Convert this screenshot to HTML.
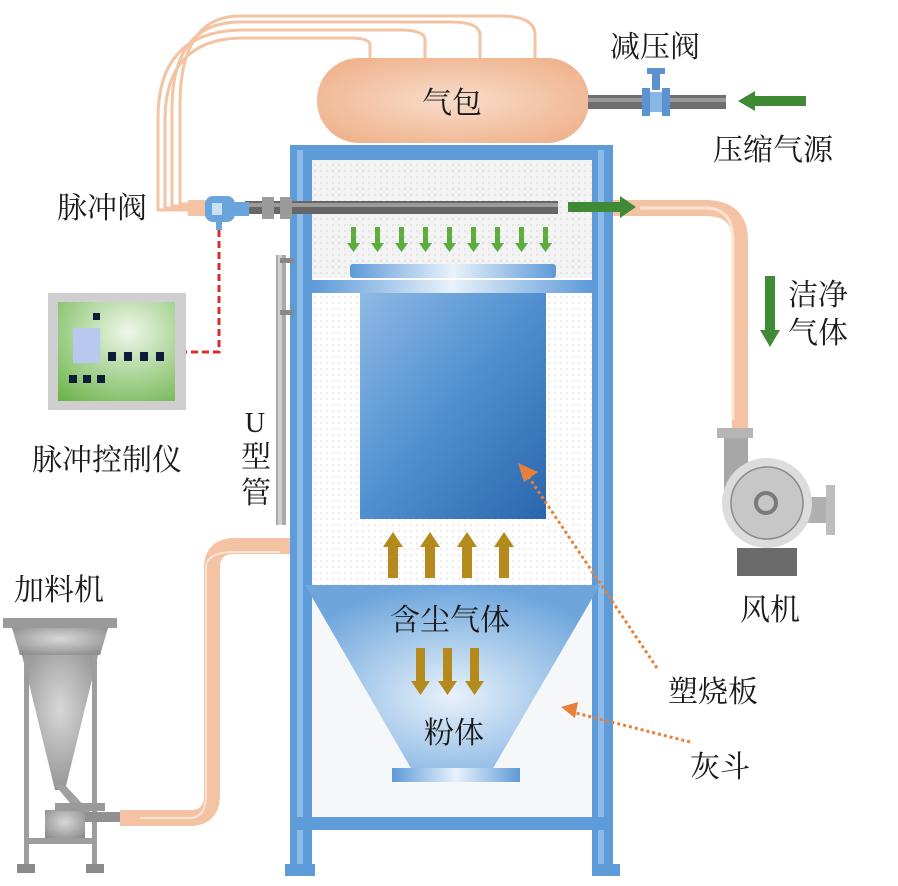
<!DOCTYPE html>
<html><head><meta charset="utf-8"><style>
html,body{margin:0;padding:0;background:#fff;}
svg{display:block;}
text{font-family:"Liberation Serif","Noto Serif CJK SC","Noto Sans CJK SC",serif;fill:#1a1a1a;}
</style></head><body>
<svg width="898" height="886" viewBox="0 0 898 886" xmlns="http://www.w3.org/2000/svg">
<defs>
<pattern id="dots" width="6" height="6" patternUnits="userSpaceOnUse"><rect width="6" height="6" fill="#f3f3f3"/><circle cx="3" cy="3" r="0.7" fill="#cfcfcf"/></pattern>
<pattern id="dotsw" width="6" height="6" patternUnits="userSpaceOnUse"><rect width="6" height="6" fill="#ffffff"/><circle cx="3" cy="3" r="0.7" fill="#d0d0d0"/></pattern>
<linearGradient id="plate" x1="0" y1="0" x2="1" y2="1"><stop offset="0" stop-color="#8fb9e4"/><stop offset="0.5" stop-color="#4f8fd0"/><stop offset="1" stop-color="#2a66ad"/></linearGradient>
<radialGradient id="drum" cx="0.5" cy="0.5" r="0.6"><stop offset="0" stop-color="#f8dccb"/><stop offset="1" stop-color="#f0b38d"/></radialGradient>
<radialGradient id="cone" cx="0.5" cy="0.6" r="0.6"><stop offset="0" stop-color="#e8f2fb"/><stop offset="1" stop-color="#6ea6dc"/></radialGradient>
<linearGradient id="hbar" x1="0" y1="0" x2="1" y2="0"><stop offset="0" stop-color="#5d9ad8"/><stop offset="0.5" stop-color="#e8f2fb"/><stop offset="1" stop-color="#5d9ad8"/></linearGradient>
<radialGradient id="green" cx="0.6" cy="0.3" r="0.9"><stop offset="0" stop-color="#eef7e8"/><stop offset="1" stop-color="#6bb34a"/></radialGradient>
<radialGradient id="gray" cx="0.5" cy="0.4" r="0.7"><stop offset="0" stop-color="#d8d8d8"/><stop offset="1" stop-color="#8a8a8a"/></radialGradient>
</defs>

<!-- tubes from drum to pulse valve -->
<g fill="none" stroke="#f3c3a3" stroke-width="3">
<path d="M370 58 V45 Q370 38 350 38 H240 Q165 40 165 120 V208 H205"/>
<path d="M425 58 V40 Q425 30 400 30 H240 Q158 32 158 118 V210 H205"/>
<path d="M480 58 V35 Q480 22 450 22 H240 Q170 22 172 115 V206 H205"/>
<path d="M535 58 V35 Q535 16 500 16 H240 Q178 16 180 112 V204 H205"/>
</g>
<rect x="188" y="200" width="20" height="16" fill="#f3c3a3"/>

<!-- gas drum -->
<rect x="317" y="58" width="272" height="85" rx="42" fill="url(#drum)"/>
<text x="452" y="113" font-size="30" text-anchor="middle">气包</text>
<rect x="588" y="95" width="138" height="14" fill="#6e6e6e"/>
<rect x="588" y="98" width="138" height="4" fill="#9a9a9a"/>
<rect x="642" y="88" width="8" height="28" fill="#5b92cf"/>
<rect x="662" y="88" width="8" height="28" fill="#5b92cf"/>
<rect x="650" y="92" width="12" height="20" fill="#8ab6e3"/>
<rect x="652" y="70" width="8" height="20" fill="#5b92cf"/>
<rect x="647" y="68" width="18" height="6" fill="#5b92cf"/>
<rect x="752" y="96" width="54" height="10" fill="#3f8a35"/>
<polygon points="738,101 755,91 755,111" fill="#3f8a35"/>
<text x="610" y="57" font-size="30">减压阀</text>
<text x="713" y="160" font-size="30">压缩气源</text>

<!-- outlet pipe to fan -->
<path d="M612 208 H705 Q740 208 740 240 V432" fill="none" stroke="#f3c3a3" stroke-width="16"/>
<path d="M640 208 H705 Q733 208 733 240 V420" fill="none" stroke="#fbe3d3" stroke-width="3"/>

<!-- main vessel frame -->
<rect x="290" y="145" width="323" height="16" fill="#5e9bd9"/>
<rect x="290" y="145" width="22" height="725" fill="#5e9bd9"/>
<rect x="592" y="145" width="21" height="725" fill="#5e9bd9"/>
<rect x="297" y="150" width="6" height="720" fill="#8cbbe8"/>
<rect x="598" y="150" width="6" height="720" fill="#8cbbe8"/>
<rect x="312" y="160" width="280" height="118" fill="url(#dots)"/>
<rect x="245" y="201" width="313" height="13" fill="#666"/>
<rect x="245" y="203" width="313" height="4" fill="#9c9c9c"/>
<rect x="262" y="197" width="12" height="22" fill="#9a9a9a"/>
<rect x="280" y="197" width="12" height="22" fill="#9a9a9a"/>
<rect x="205" y="196" width="30" height="26" rx="8" fill="#6aa4dc"/>
<rect x="212" y="203" width="10" height="12" fill="#c9e0f5"/>
<rect x="235" y="202" width="14" height="14" fill="#6aa4dc"/>
<rect x="216" y="222" width="6" height="8" fill="#6aa4dc"/>
<!-- outlet arrow -->
<rect x="568" y="202" width="55" height="10" fill="#3f8a35"/>
<polygon points="636,207 620,196 620,218" fill="#3f8a35"/>
<g fill="#5eae3e">
<g id="ga"><rect x="351" y="227" width="5" height="17"/><polygon points="347,243 360,243 353.5,252"/></g>
<use href="#ga" x="24"/><use href="#ga" x="48"/><use href="#ga" x="72"/><use href="#ga" x="96"/><use href="#ga" x="120"/><use href="#ga" x="144"/><use href="#ga" x="168"/><use href="#ga" x="192"/>
</g>
<rect x="350" y="264" width="206" height="14" rx="3" fill="url(#hbar)"/>
<rect x="312" y="280" width="280" height="13" fill="url(#hbar)"/>
<rect x="312" y="293" width="280" height="292" fill="url(#dotsw)"/>
<rect x="360" y="293" width="186" height="226" fill="url(#plate)"/>
<g fill="#b58a1c">
<g id="ua"><rect x="388" y="545" width="10" height="33"/><polygon points="383,547 403,547 393,532"/></g>
<use href="#ua" x="37"/><use href="#ua" x="74"/><use href="#ua" x="111"/>
</g>
<rect x="312" y="585" width="280" height="232" fill="#f5f7f9"/>
<polygon points="305,585 600,585 492,770 412,770" fill="url(#cone)"/>
<rect x="392" y="768" width="128" height="14" fill="url(#hbar)"/>
<g fill="#b58a1c">
<g id="da"><rect x="416" y="648" width="9" height="35"/><polygon points="411,681 430,681 420.5,695"/></g>
<use href="#da" x="27"/><use href="#da" x="54"/>
</g>
<text x="450" y="630" font-size="30" text-anchor="middle">含尘气体</text>
<text x="454" y="743" font-size="30" text-anchor="middle">粉体</text>
<rect x="290" y="817" width="323" height="13" fill="#5e9bd9"/>
<rect x="285" y="864" width="30" height="12" fill="#5e9bd9"/>
<rect x="592" y="864" width="28" height="12" fill="#5e9bd9"/>

<!-- U tube -->
<rect x="276" y="255" width="10" height="270" fill="#a9a9a9"/>
<rect x="278" y="255" width="4" height="270" fill="#cfcfcf"/>
<rect x="280" y="258" width="14" height="5" fill="#888"/>
<rect x="280" y="310" width="14" height="5" fill="#888"/>
<text x="255" y="432" font-size="28" text-anchor="middle">U</text>
<text x="256" y="467" font-size="30" text-anchor="middle">型</text>
<text x="256" y="503" font-size="30" text-anchor="middle">管</text>

<path d="M219 230 V352 H185" fill="none" stroke="#dd2a2a" stroke-width="3" stroke-dasharray="7,4"/>
<rect x="48" y="293" width="138" height="117" fill="#cfcfcf"/>
<rect x="58" y="302" width="117" height="99" fill="url(#green)"/>
<rect x="73" y="328" width="27" height="35" fill="#b9c8ee"/>
<g fill="#0e1c3a">
<rect x="93" y="313" width="7" height="7"/>
<rect x="108" y="352" width="8" height="9"/><rect x="124" y="352" width="8" height="9"/><rect x="140" y="352" width="8" height="9"/><rect x="156" y="352" width="8" height="9"/>
<rect x="69" y="375" width="8" height="8"/><rect x="83" y="375" width="8" height="8"/><rect x="97" y="375" width="8" height="8"/>
</g>
<text x="57" y="218" font-size="30">脉冲阀</text>
<text x="32" y="470" font-size="30">脉冲控制仪</text>

<rect x="765" y="276" width="10" height="56" fill="#3f8a35"/>
<polygon points="760,330 780,330 770,347" fill="#3f8a35"/>
<text x="788" y="305" font-size="30">洁净</text>
<text x="788" y="343" font-size="30">气体</text>
<rect x="717" y="428" width="36" height="10" fill="#b5b5b5"/>
<rect x="724" y="438" width="24" height="60" fill="#a7a7a7"/>
<rect x="790" y="497" width="38" height="26" fill="#b0b0b0"/>
<rect x="826" y="485" width="9" height="50" fill="#bdbdbd"/>
<circle cx="767" cy="503" r="45" fill="#dcdcdc"/>
<circle cx="767" cy="503" r="36" fill="#c7c7c7" stroke="#8a8a8a" stroke-width="1.5"/>
<circle cx="766" cy="503" r="10" fill="none" stroke="#7a7a7a" stroke-width="4"/>
<rect x="737" y="548" width="60" height="28" fill="#6b6b6b"/>
<text x="740" y="620" font-size="30">风机</text>

<path d="M120 818 H190 Q212 818 212 795 V568 Q212 546 235 546 H290" fill="none" stroke="#f3c3a3" stroke-width="16"/>
<path d="M140 818 H190 Q206 818 206 795 V568 Q206 552 235 552 H280" fill="none" stroke="#fbe3d3" stroke-width="2"/>
<text x="14" y="600" font-size="30">加料机</text>
<rect x="3" y="618" width="114" height="10" fill="#9a9a9a"/>
<polygon points="12,628 108,628 100,655 20,655" fill="url(#gray)"/>
<polygon points="22,655 98,655 65,790 55,790" fill="url(#gray)"/>
<rect x="24" y="655" width="5" height="210" fill="#9d9d9d"/>
<rect x="92" y="655" width="5" height="210" fill="#9d9d9d"/>
<polygon points="55,785 65,785 90,812 80,815" fill="#a0a0a0"/>
<rect x="45" y="810" width="40" height="30" fill="url(#gray)"/>
<rect x="55" y="803" width="50" height="8" fill="#9a9a9a"/>
<rect x="85" y="812" width="35" height="10" fill="#909090"/>
<rect x="24" y="838" width="73" height="6" fill="#9d9d9d"/>
<rect x="17" y="864" width="18" height="9" fill="#8a8a8a"/>
<rect x="86" y="864" width="18" height="9" fill="#8a8a8a"/>

<g stroke="#e8803a" stroke-width="3" stroke-dasharray="3,3" fill="none">
<path d="M657 668 L528 476"/>
<path d="M690 742 L572 712"/>
</g>
<polygon points="518,463 538,472 524,482" fill="#e8803a"/>
<polygon points="561,707 578,702 575,718" fill="#e8803a"/>
<text x="668" y="702" font-size="30">塑烧板</text>
<text x="690" y="777" font-size="30">灰斗</text>
</svg>
</body></html>
